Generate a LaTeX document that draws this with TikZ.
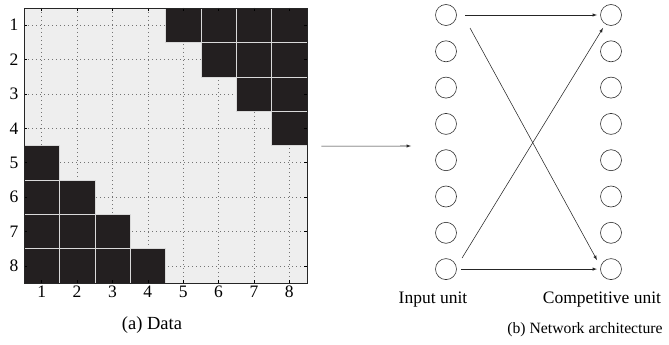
\documentclass[tikz,border=0pt]{standalone}
\usepackage{fontspec}
\setmainfont{Liberation Serif}
\usetikzlibrary{calc}
\definecolor{cellblack}{HTML}{231F20}
\definecolor{plotbg}{HTML}{EEEEEE}
\begin{document}
\begin{tikzpicture}[x=1pt,y=-1pt,
  txt/.style={font=\fontsize{17.5}{19}\selectfont, inner sep=0pt},
  captxt/.style={font=\fontsize{15.7}{18}\selectfont, inner sep=0pt},
  unit/.style={circle, draw=black!80, line width=0.6pt, minimum size=21pt, inner sep=0pt},
  conn/.style={-latex, line width=0.55pt, black!85},
  griddot/.style={black!55, line width=0.5pt, dash pattern=on 0.7pt off 3.3pt},
  blackcell/.style={fill=cellblack, draw=white!70!gray, line width=0.5pt}]
\useasboundingbox (0,0) rectangle (669,345);

% ---- data matrix ----
\def\xo{24}\def\yo{8}\def\cw{35.375}\def\ch{34.375}
\node[fill=plotbg, minimum width=283pt, minimum height=275pt, inner sep=0pt, anchor=north west] (plot) at (\xo,\yo) {};
% dotted grid at cell centres
\foreach \k in {1,...,8}{
  \draw[griddot] ({\xo+(\k-0.5)*\cw},\yo) -- ({\xo+(\k-0.5)*\cw},{\yo+8*\ch});
  \draw[griddot] (\xo,{\yo+(\k-0.5)*\ch}) -- ({\xo+8*\cw},{\yo+(\k-0.5)*\ch});
}
% occupied cells (row, column)
\foreach \r/\c in {1/5,1/6,1/7,1/8,2/6,2/7,2/8,3/7,3/8,4/8,
                   5/1,6/1,6/2,7/1,7/2,7/3,8/1,8/2,8/3,8/4}{
  \path[blackcell] ({\xo+(\c-1)*\cw},{\yo+(\r-1)*\ch}) rectangle ++(\cw,\ch);
}
% ticks and labels
\foreach \k in {1,...,8}{
  \draw[black, line width=0.5pt] ({\xo+(\k-0.5)*\cw},{\yo+8*\ch}) -- ++(0,-3);
  \draw[black, line width=0.5pt] ({\xo+(\k-0.5)*\cw},\yo) -- ++(0,3);
  \draw[black, line width=0.5pt] (\xo,{\yo+(\k-0.5)*\ch}) -- ++(3,0);
  \draw[black, line width=0.5pt] ({\xo+8*\cw},{\yo+(\k-0.5)*\ch}) -- ++(-3,0);
  \node[txt] (col\k) at ({\xo+(\k-0.5)*\cw},292) {\k};
  \node[txt] (row\k) at (14,{\yo+(\k-0.5)*\ch}) {\k};
}
\draw[black!85, line width=0.8pt] (plot.north west) rectangle (plot.south east);
\node[txt, font=\fontsize{18.5}{20}\selectfont] (capa) at (152,325) {(a) Data};

% ---- arrow between the panels ----
\coordinate (arrowend) at (411,146);
\draw[conn] ($(plot.east)+(14,0.5)$) -- (arrowend);

% ---- network ----
\foreach \i in {1,...,8}{
  \node[unit] (a\i) at (446,{15+(\i-1)*36.3}) {};
  \node[unit] (b\i) at (611,{15+(\i-1)*36.3}) {};
}
\draw[conn] ($(a1)+(19,0)$) -- ($(b1)+(-14,0)$);
\draw[conn] ($(a8)+(15,0)$) -- ($(b8)+(-14,0)$);
\draw[conn] ($(a1)+(24,13)$) -- ($(b8)+(-14,-9)$);
\draw[conn] ($(a8)+(16,-11)$) -- ($(b1)+(-8,13)$);

\node[txt] (inlab) at (433,300) {Input unit};
\node[txt] (complab) at (602,300) {Competitive unit};
\node[captxt] (capb) at (585,330) {(b) Network architecture};
\end{tikzpicture}
\end{document}
